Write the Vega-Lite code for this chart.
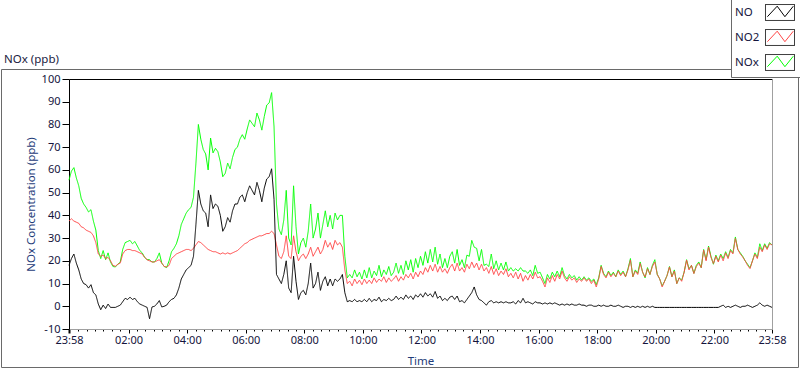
{
"$schema": "https://vega.github.io/schema/vega-lite/v6.json",
"width": 797, "height": 298,
"autosize": {"type": "none"},
"padding": {"left": 1, "top": 69, "right": 2, "bottom": 2},
"background": "white",
"config": {"view": {"stroke": "#6a6a6a", "strokeWidth": 1}, "font": "Noto Sans"},
"title": {"text": "NOx (ppb)", "anchor": "start", "frame": "group", "dx": 3, "dy": 81, "offset": 0, "fontSize": 11.5, "fontWeight": "normal", "color": "#1a1a40", "font": "Noto Sans", "baseline": "alphabetic"},
"data": {"format": {"parse": {"t": "utc:'%d %H:%M'"}}, "values": [
{"t":"01 23:58","NO":18,"NO2":37.5,"NOx":55.5},
{"t":"02 00:03","NO":21,"NO2":38.5,"NOx":59.5},
{"t":"02 00:08","NO":23,"NO2":37.5,"NOx":61},
{"t":"02 00:13","NO":19,"NO2":37,"NOx":56.5},
{"t":"02 00:18","NO":16,"NO2":36.5,"NOx":53},
{"t":"02 00:23","NO":12,"NO2":35,"NOx":47.5},
{"t":"02 00:28","NO":10,"NO2":34.5,"NOx":45},
{"t":"02 00:33","NO":9.5,"NO2":33.5,"NOx":43.5},
{"t":"02 00:38","NO":8,"NO2":33,"NOx":41.5},
{"t":"02 00:43","NO":9.5,"NO2":32.5,"NOx":42.5},
{"t":"02 00:48","NO":6,"NO2":31,"NOx":37.5},
{"t":"02 00:53","NO":5,"NO2":28,"NOx":33.5},
{"t":"02 00:58","NO":1,"NO2":23,"NOx":24.5},
{"t":"02 01:03","NO":-1.5,"NO2":22,"NOx":21},
{"t":"02 01:08","NO":0.5,"NO2":22.5,"NOx":24.5},
{"t":"02 01:13","NO":-1,"NO2":21,"NOx":20.5},
{"t":"02 01:18","NO":1,"NO2":21.5,"NOx":23.5},
{"t":"02 01:23","NO":-0.5,"NO2":20,"NOx":19.5},
{"t":"02 01:28","NO":-0.5,"NO2":18,"NOx":17.5},
{"t":"02 01:33","NO":-0.5,"NO2":17.6,"NOx":17.3},
{"t":"02 01:38","NO":0,"NO2":18.5,"NOx":18.5},
{"t":"02 01:43","NO":0.5,"NO2":19,"NOx":19.5},
{"t":"02 01:48","NO":2,"NO2":23,"NOx":25},
{"t":"02 01:53","NO":3.5,"NO2":24.5,"NOx":28},
{"t":"02 01:58","NO":3,"NO2":25,"NOx":28.5},
{"t":"02 02:03","NO":4,"NO2":25,"NOx":29},
{"t":"02 02:08","NO":3,"NO2":24.5,"NOx":27.5},
{"t":"02 02:13","NO":3.5,"NO2":24.5,"NOx":28.5},
{"t":"02 02:18","NO":2,"NO2":24,"NOx":26.5},
{"t":"02 02:23","NO":1,"NO2":23.5,"NOx":24.5},
{"t":"02 02:28","NO":0.5,"NO2":23,"NOx":23.5},
{"t":"02 02:33","NO":0,"NO2":21.5,"NOx":21.5},
{"t":"02 02:38","NO":-0.5,"NO2":20.5,"NOx":20.5},
{"t":"02 02:43","NO":-5.5,"NO2":20,"NOx":20.5},
{"t":"02 02:48","NO":-0.3,"NO2":19.5,"NOx":19.5},
{"t":"02 02:53","NO":0,"NO2":19.5,"NOx":19.5},
{"t":"02 02:58","NO":1,"NO2":20,"NOx":21},
{"t":"02 03:03","NO":2.5,"NO2":20.5,"NOx":23.5},
{"t":"02 03:08","NO":-0.3,"NO2":19,"NOx":19},
{"t":"02 03:13","NO":0,"NO2":17.5,"NOx":17.5},
{"t":"02 03:18","NO":0.5,"NO2":17.3,"NOx":17},
{"t":"02 03:23","NO":2,"NO2":18,"NOx":20},
{"t":"02 03:28","NO":3,"NO2":21,"NOx":24},
{"t":"02 03:33","NO":3.5,"NO2":22,"NOx":25.5},
{"t":"02 03:38","NO":5,"NO2":23,"NOx":27.5},
{"t":"02 03:43","NO":8,"NO2":23.5,"NOx":31},
{"t":"02 03:48","NO":12,"NO2":24,"NOx":36},
{"t":"02 03:53","NO":14,"NO2":24.5,"NOx":38.5},
{"t":"02 03:58","NO":16,"NO2":25,"NOx":41},
{"t":"02 04:03","NO":17,"NO2":25,"NOx":42.5},
{"t":"02 04:08","NO":18,"NO2":24.5,"NOx":43.5},
{"t":"02 04:13","NO":22,"NO2":25.5,"NOx":48},
{"t":"02 04:18","NO":36,"NO2":27,"NOx":63},
{"t":"02 04:23","NO":51,"NO2":28.5,"NOx":80},
{"t":"02 04:28","NO":45,"NO2":28,"NOx":73.5},
{"t":"02 04:33","NO":42,"NO2":27,"NOx":69},
{"t":"02 04:38","NO":41,"NO2":26,"NOx":67},
{"t":"02 04:43","NO":35,"NO2":25,"NOx":60},
{"t":"02 04:48","NO":49,"NO2":24.5,"NOx":74},
{"t":"02 04:53","NO":43,"NO2":24,"NOx":67.5},
{"t":"02 04:58","NO":45,"NO2":24,"NOx":69.5},
{"t":"02 05:03","NO":44,"NO2":23.5,"NOx":68},
{"t":"02 05:08","NO":40,"NO2":23,"NOx":63.5},
{"t":"02 05:13","NO":33,"NO2":23.5,"NOx":57},
{"t":"02 05:18","NO":35,"NO2":23,"NOx":58.5},
{"t":"02 05:23","NO":39,"NO2":23.5,"NOx":63},
{"t":"02 05:28","NO":37,"NO2":23,"NOx":60.5},
{"t":"02 05:33","NO":42,"NO2":23.5,"NOx":65.5},
{"t":"02 05:38","NO":45,"NO2":24,"NOx":69},
{"t":"02 05:43","NO":45,"NO2":24.5,"NOx":70},
{"t":"02 05:48","NO":48,"NO2":25.5,"NOx":73.5},
{"t":"02 05:53","NO":49,"NO2":26.5,"NOx":75.5},
{"t":"02 05:58","NO":46,"NO2":27.5,"NOx":73.5},
{"t":"02 06:03","NO":50,"NO2":28,"NOx":78},
{"t":"02 06:08","NO":53,"NO2":29,"NOx":82},
{"t":"02 06:13","NO":51,"NO2":29.5,"NOx":80.5},
{"t":"02 06:18","NO":49,"NO2":30,"NOx":79},
{"t":"02 06:23","NO":54.5,"NO2":30.5,"NOx":85},
{"t":"02 06:28","NO":51,"NO2":31,"NOx":82},
{"t":"02 06:33","NO":46,"NO2":31,"NOx":77.5},
{"t":"02 06:38","NO":52,"NO2":31.5,"NOx":83.5},
{"t":"02 06:43","NO":56,"NO2":32,"NOx":88.5},
{"t":"02 06:48","NO":57,"NO2":32,"NOx":89.5},
{"t":"02 06:53","NO":60.5,"NO2":33,"NOx":94},
{"t":"02 06:58","NO":47,"NO2":32,"NOx":79},
{"t":"02 07:03","NO":14,"NO2":27,"NOx":45},
{"t":"02 07:08","NO":12,"NO2":22,"NOx":34},
{"t":"02 07:13","NO":10,"NO2":21,"NOx":31.5},
{"t":"02 07:18","NO":14,"NO2":24,"NOx":38},
{"t":"02 07:23","NO":20,"NO2":31,"NOx":51},
{"t":"02 07:28","NO":8,"NO2":22,"NOx":30},
{"t":"02 07:33","NO":6,"NO2":21,"NOx":27},
{"t":"02 07:38","NO":22,"NO2":31,"NOx":53},
{"t":"02 07:43","NO":11,"NO2":24,"NOx":35},
{"t":"02 07:48","NO":3,"NO2":20,"NOx":23},
{"t":"02 07:53","NO":6,"NO2":22,"NOx":28},
{"t":"02 07:58","NO":7,"NO2":23,"NOx":30},
{"t":"02 08:03","NO":5,"NO2":21,"NOx":26},
{"t":"02 08:08","NO":10,"NO2":23,"NOx":33},
{"t":"02 08:13","NO":19,"NO2":26,"NOx":45},
{"t":"02 08:18","NO":8,"NO2":22,"NOx":30},
{"t":"02 08:23","NO":10,"NO2":24,"NOx":34},
{"t":"02 08:28","NO":15,"NO2":26,"NOx":41},
{"t":"02 08:33","NO":7,"NO2":23,"NOx":30},
{"t":"02 08:38","NO":11,"NO2":25,"NOx":36},
{"t":"02 08:43","NO":13,"NO2":29,"NOx":42},
{"t":"02 08:48","NO":9,"NO2":26,"NOx":35},
{"t":"02 08:53","NO":12,"NO2":28,"NOx":40},
{"t":"02 08:58","NO":9,"NO2":25,"NOx":34},
{"t":"02 09:03","NO":12,"NO2":29,"NOx":41},
{"t":"02 09:08","NO":11,"NO2":27,"NOx":38},
{"t":"02 09:13","NO":12,"NO2":28,"NOx":40},
{"t":"02 09:18","NO":14,"NO2":26,"NOx":40},
{"t":"02 09:23","NO":6,"NO2":16,"NOx":22},
{"t":"02 09:28","NO":2,"NO2":10,"NOx":12.5},
{"t":"02 09:33","NO":2.5,"NO2":11,"NOx":14},
{"t":"02 09:38","NO":2,"NO2":9,"NOx":12.5},
{"t":"02 09:43","NO":3,"NO2":12,"NOx":16},
{"t":"02 09:48","NO":2,"NO2":10,"NOx":13},
{"t":"02 09:53","NO":2.5,"NO2":11.5,"NOx":15},
{"t":"02 09:58","NO":2,"NO2":9.5,"NOx":12},
{"t":"02 10:03","NO":3,"NO2":12,"NOx":16},
{"t":"02 10:08","NO":2,"NO2":10,"NOx":12.5},
{"t":"02 10:13","NO":3.5,"NO2":11.5,"NOx":17},
{"t":"02 10:18","NO":2,"NO2":10,"NOx":12.5},
{"t":"02 10:23","NO":3,"NO2":12.5,"NOx":15.5},
{"t":"02 10:28","NO":2.5,"NO2":10.5,"NOx":13.5},
{"t":"02 10:33","NO":4,"NO2":12,"NOx":18},
{"t":"02 10:38","NO":2,"NO2":11,"NOx":13},
{"t":"02 10:43","NO":3,"NO2":13,"NOx":16},
{"t":"02 10:48","NO":2.5,"NO2":10.5,"NOx":14},
{"t":"02 10:53","NO":3.5,"NO2":12.5,"NOx":17.5},
{"t":"02 10:58","NO":2.5,"NO2":11,"NOx":13.5},
{"t":"02 11:03","NO":3,"NO2":12,"NOx":15},
{"t":"02 11:08","NO":4.5,"NO2":13.5,"NOx":19},
{"t":"02 11:13","NO":3,"NO2":11,"NOx":14.5},
{"t":"02 11:18","NO":4,"NO2":13,"NOx":18},
{"t":"02 11:23","NO":3,"NO2":11.5,"NOx":14},
{"t":"02 11:28","NO":5,"NO2":14,"NOx":20},
{"t":"02 11:33","NO":3.5,"NO2":12.5,"NOx":16},
{"t":"02 11:38","NO":4.5,"NO2":14.5,"NOx":20.5},
{"t":"02 11:43","NO":3,"NO2":12,"NOx":15},
{"t":"02 11:48","NO":5,"NO2":15,"NOx":21},
{"t":"02 11:53","NO":4,"NO2":13,"NOx":17},
{"t":"02 11:58","NO":5.5,"NO2":15.5,"NOx":22},
{"t":"02 12:03","NO":4,"NO2":14,"NOx":18},
{"t":"02 12:08","NO":6,"NO2":17,"NOx":24},
{"t":"02 12:13","NO":4.5,"NO2":15,"NOx":19},
{"t":"02 12:18","NO":5.5,"NO2":18,"NOx":25},
{"t":"02 12:23","NO":4,"NO2":15.5,"NOx":19.5},
{"t":"02 12:28","NO":6.5,"NO2":18.5,"NOx":26},
{"t":"02 12:33","NO":3.5,"NO2":15,"NOx":18.5},
{"t":"02 12:38","NO":4.5,"NO2":17.5,"NOx":23},
{"t":"02 12:43","NO":2.5,"NO2":15,"NOx":17},
{"t":"02 12:48","NO":3.5,"NO2":16.5,"NOx":21},
{"t":"02 12:53","NO":2.5,"NO2":14.5,"NOx":17},
{"t":"02 12:58","NO":4,"NO2":17,"NOx":22},
{"t":"02 13:03","NO":4.5,"NO2":18.5,"NOx":24},
{"t":"02 13:08","NO":3,"NO2":15.5,"NOx":19},
{"t":"02 13:13","NO":4.5,"NO2":19,"NOx":25},
{"t":"02 13:18","NO":2,"NO2":15.5,"NOx":18},
{"t":"02 13:23","NO":2.5,"NO2":17,"NOx":20.5},
{"t":"02 13:28","NO":1.5,"NO2":15,"NOx":17},
{"t":"02 13:33","NO":3,"NO2":18.5,"NOx":22.5},
{"t":"02 13:38","NO":4.5,"NO2":16.5,"NOx":22},
{"t":"02 13:43","NO":6,"NO2":19.5,"NOx":29},
{"t":"02 13:48","NO":8.5,"NO2":17,"NOx":26},
{"t":"02 13:53","NO":5,"NO2":19,"NOx":25.5},
{"t":"02 13:58","NO":3,"NO2":16,"NOx":20},
{"t":"02 14:03","NO":2.5,"NO2":18.5,"NOx":25},
{"t":"02 14:08","NO":1.5,"NO2":15.5,"NOx":18},
{"t":"02 14:13","NO":0.5,"NO2":17,"NOx":18.5},
{"t":"02 14:18","NO":2,"NO2":14.5,"NOx":17.5},
{"t":"02 14:23","NO":2.5,"NO2":17.5,"NOx":23},
{"t":"02 14:28","NO":1.5,"NO2":14,"NOx":16.5},
{"t":"02 14:33","NO":2,"NO2":16.5,"NOx":20},
{"t":"02 14:38","NO":1.5,"NO2":13.5,"NOx":16},
{"t":"02 14:43","NO":2,"NO2":15.5,"NOx":19},
{"t":"02 14:48","NO":1.5,"NO2":14,"NOx":16},
{"t":"02 14:53","NO":2,"NO2":16.5,"NOx":19.5},
{"t":"02 14:58","NO":1.5,"NO2":13,"NOx":15.5},
{"t":"02 15:03","NO":1.5,"NO2":14.5,"NOx":17},
{"t":"02 15:08","NO":2,"NO2":12.5,"NOx":15.5},
{"t":"02 15:13","NO":1,"NO2":15,"NOx":16.5},
{"t":"02 15:18","NO":2.5,"NO2":12,"NOx":15.5},
{"t":"02 15:23","NO":1.5,"NO2":14.5,"NOx":17},
{"t":"02 15:28","NO":3.5,"NO2":11,"NOx":15.5},
{"t":"02 15:33","NO":1.5,"NO2":13.5,"NOx":15.5},
{"t":"02 15:38","NO":2,"NO2":11.5,"NOx":14.5},
{"t":"02 15:43","NO":1.5,"NO2":14,"NOx":16},
{"t":"02 15:48","NO":1,"NO2":12,"NOx":13.5},
{"t":"02 15:53","NO":2,"NO2":15,"NOx":18},
{"t":"02 15:58","NO":1.5,"NO2":12.5,"NOx":14.5},
{"t":"02 16:03","NO":1.5,"NO2":13,"NOx":15},
{"t":"02 16:08","NO":1,"NO2":11,"NOx":12.5},
{"t":"02 16:13","NO":1.5,"NO2":8.5,"NOx":10},
{"t":"02 16:18","NO":1,"NO2":12.5,"NOx":14},
{"t":"02 16:23","NO":1.5,"NO2":10.5,"NOx":12},
{"t":"02 16:28","NO":1,"NO2":13.5,"NOx":15},
{"t":"02 16:33","NO":1.5,"NO2":11,"NOx":13},
{"t":"02 16:38","NO":1,"NO2":14,"NOx":15.5},
{"t":"02 16:43","NO":0.5,"NO2":12,"NOx":13},
{"t":"02 16:48","NO":1,"NO2":15.5,"NOx":17},
{"t":"02 16:53","NO":0.5,"NO2":12.5,"NOx":13.5},
{"t":"02 16:58","NO":1,"NO2":11,"NOx":12},
{"t":"02 17:03","NO":0.5,"NO2":13,"NOx":14},
{"t":"02 17:08","NO":1,"NO2":11.5,"NOx":12.5},
{"t":"02 17:13","NO":0.5,"NO2":12.5,"NOx":13.5},
{"t":"02 17:18","NO":0.5,"NO2":10.5,"NOx":11.5},
{"t":"02 17:23","NO":1,"NO2":12,"NOx":13},
{"t":"02 17:28","NO":0.5,"NO2":11,"NOx":11.5},
{"t":"02 17:33","NO":0.5,"NO2":12.5,"NOx":13},
{"t":"02 17:38","NO":0,"NO2":11,"NOx":11.5},
{"t":"02 17:43","NO":0.5,"NO2":12,"NOx":12.5},
{"t":"02 17:48","NO":0.5,"NO2":10,"NOx":11},
{"t":"02 17:53","NO":0,"NO2":11.5,"NOx":12},
{"t":"02 17:58","NO":0,"NO2":8.5,"NOx":9.5},
{"t":"02 18:03","NO":0.5,"NO2":12,"NOx":12.5},
{"t":"02 18:08","NO":0,"NO2":17.5,"NOx":18},
{"t":"02 18:13","NO":0.5,"NO2":14,"NOx":14.5},
{"t":"02 18:18","NO":0,"NO2":12.5,"NOx":13},
{"t":"02 18:23","NO":0,"NO2":15,"NOx":15.5},
{"t":"02 18:28","NO":0.5,"NO2":13,"NOx":13.5},
{"t":"02 18:33","NO":0,"NO2":14.5,"NOx":15},
{"t":"02 18:38","NO":0,"NO2":13,"NOx":13},
{"t":"02 18:43","NO":0.5,"NO2":15.5,"NOx":16},
{"t":"02 18:48","NO":0,"NO2":13.5,"NOx":14},
{"t":"02 18:53","NO":-0.5,"NO2":15,"NOx":15.5},
{"t":"02 18:58","NO":0,"NO2":13,"NOx":13},
{"t":"02 19:03","NO":0,"NO2":16,"NOx":16.5},
{"t":"02 19:08","NO":-0.5,"NO2":20.3,"NOx":21},
{"t":"02 19:13","NO":0,"NO2":13,"NOx":13},
{"t":"02 19:18","NO":-0.5,"NO2":15.5,"NOx":16},
{"t":"02 19:23","NO":0,"NO2":14,"NOx":14.5},
{"t":"02 19:28","NO":-0.5,"NO2":18.8,"NOx":19.5},
{"t":"02 19:33","NO":0,"NO2":15,"NOx":15},
{"t":"02 19:38","NO":-0.5,"NO2":12.9,"NOx":12.5},
{"t":"02 19:43","NO":0,"NO2":16.5,"NOx":17},
{"t":"02 19:48","NO":-0.5,"NO2":14,"NOx":14},
{"t":"02 19:53","NO":0,"NO2":17.5,"NOx":18},
{"t":"02 19:58","NO":-0.5,"NO2":19.5,"NOx":20.5},
{"t":"02 20:03","NO":-0.5,"NO2":14,"NOx":14},
{"t":"02 20:08","NO":-0.5,"NO2":12,"NOx":12},
{"t":"02 20:13","NO":-0.5,"NO2":8.5,"NOx":9},
{"t":"02 20:18","NO":-0.5,"NO2":11,"NOx":11},
{"t":"02 20:23","NO":-0.5,"NO2":13.5,"NOx":13.5},
{"t":"02 20:28","NO":-0.5,"NO2":17.3,"NOx":17.5},
{"t":"02 20:33","NO":-0.5,"NO2":13,"NOx":13},
{"t":"02 20:38","NO":-0.5,"NO2":15.5,"NOx":16},
{"t":"02 20:43","NO":-0.5,"NO2":10,"NOx":10},
{"t":"02 20:48","NO":-0.5,"NO2":12.5,"NOx":12.5},
{"t":"02 20:53","NO":-0.5,"NO2":11,"NOx":11.5},
{"t":"02 20:58","NO":-0.5,"NO2":15,"NOx":15},
{"t":"02 21:03","NO":-0.5,"NO2":20.3,"NOx":20.5},
{"t":"02 21:08","NO":-0.5,"NO2":16,"NOx":16.5},
{"t":"02 21:13","NO":-0.5,"NO2":18,"NOx":18},
{"t":"02 21:18","NO":-0.5,"NO2":14.4,"NOx":14.5},
{"t":"02 21:23","NO":-0.5,"NO2":17.5,"NOx":18},
{"t":"02 21:28","NO":-0.5,"NO2":19,"NOx":19.5},
{"t":"02 21:33","NO":-0.5,"NO2":17,"NOx":17},
{"t":"02 21:38","NO":-0.5,"NO2":24.7,"NOx":25},
{"t":"02 21:43","NO":-0.5,"NO2":20,"NOx":20.5},
{"t":"02 21:48","NO":-0.5,"NO2":26,"NOx":26.5},
{"t":"02 21:53","NO":-0.5,"NO2":21.5,"NOx":22},
{"t":"02 21:58","NO":-0.5,"NO2":18.8,"NOx":18.5},
{"t":"02 22:03","NO":-0.5,"NO2":22,"NOx":22.5},
{"t":"02 22:08","NO":-0.5,"NO2":19.5,"NOx":20},
{"t":"02 22:13","NO":0,"NO2":22.5,"NOx":23},
{"t":"02 22:18","NO":0.5,"NO2":20,"NOx":21},
{"t":"02 22:23","NO":-0.5,"NO2":23.5,"NOx":24},
{"t":"02 22:28","NO":0,"NO2":21,"NOx":21.5},
{"t":"02 22:33","NO":-0.5,"NO2":24.5,"NOx":25},
{"t":"02 22:38","NO":0,"NO2":23,"NOx":23.5},
{"t":"02 22:43","NO":0.5,"NO2":29.8,"NOx":30.5},
{"t":"02 22:48","NO":0,"NO2":25,"NOx":25},
{"t":"02 22:53","NO":-0.5,"NO2":23,"NOx":23.5},
{"t":"02 22:58","NO":0,"NO2":21.7,"NOx":22},
{"t":"02 23:03","NO":0,"NO2":20,"NOx":20},
{"t":"02 23:08","NO":0.5,"NO2":18,"NOx":18.5},
{"t":"02 23:13","NO":0,"NO2":16.6,"NOx":17},
{"t":"02 23:18","NO":-0.5,"NO2":20,"NOx":20},
{"t":"02 23:23","NO":0,"NO2":23,"NOx":23.5},
{"t":"02 23:28","NO":0.5,"NO2":21,"NOx":21.5},
{"t":"02 23:33","NO":1.5,"NO2":26,"NOx":27.5},
{"t":"02 23:38","NO":0.5,"NO2":24,"NOx":24.5},
{"t":"02 23:43","NO":0,"NO2":27,"NOx":27.5},
{"t":"02 23:48","NO":0.5,"NO2":25,"NOx":25.5},
{"t":"02 23:53","NO":0,"NO2":27.5,"NOx":28},
{"t":"02 23:58","NO":-0.5,"NO2":27,"NOx":27}
]},
"transform": [{"fold": ["NOx", "NO2", "NO"], "as": ["series", "value"]}],
"encoding": {
  "color": {"field": "series", "type": "nominal",
    "scale": {"domain": ["NO", "NO2", "NOx"], "range": ["#000000", "#ff4545", "#00ff00"]},
    "legend": {
      "title": null, "orient": "none", "legendX": 730, "legendY": -75,
      "symbolType": "M -1.036 -0.57 M 1.036 0.57 M -0.9 0.3 L -0.2 -0.45 L 0.35 0.3 L 0.95 -0.45",
      "symbolSize": 784, "symbolStrokeWidth": 1, "symbolOffset": 30.5, "rowPadding": 0,
      "labelAlign": "left", "labelOffset": -59.5, "labelFontSize": 11.5, "labelColor": "#14143c", "labelFont": "Noto Sans",
      "padding": 4, "strokeColor": "#6a6a6a", "fillColor": "white"
    }
  },
  "strokeDash": {"field": "series", "type": "nominal",
    "scale": {"domain": ["NOx", "NO2", "NO"], "range": [[1, 0], [1, 0], [1, 0]]},
    "legend": {
      "title": null, "orient": "none", "legendX": 730, "legendY": -75,
      "symbolType": "M -1.036 -0.57 L 1.036 -0.57 L 1.036 0.57 L -1.036 0.57 Z",
      "symbolSize": 784, "symbolStrokeWidth": 1, "symbolStrokeColor": "black", "symbolFillColor": "transparent", "symbolOffset": 30.5, "rowPadding": 0,
      "labelAlign": "left", "labelOffset": -59.5, "labelFontSize": 11.5, "labelExpr": "''", "labelFont": "Noto Sans",
      "padding": 4
    }
  }
},
"layer": [
  {
    "transform": [{"filter": "datum.series !== 'NO'"}],
    "mark": {"type": "line", "strokeWidth": 1},
    "encoding": {
      "x": {"field": "t", "type": "temporal",
        "scale": {"type": "utc", "domain": [-2208902520000, -2208816120000], "nice": false, "range": [68, 771]},
        "axis": {
          "orient": "bottom", "offset": -38,
          "title": "Time", "titleFontSize": 11.5, "titleFontWeight": "normal", "titleColor": "#1f3d7a", "titlePadding": 10,
          "values": [-2208902520000, -2208895200000, -2208888000000, -2208880800000, -2208873600000, -2208866400000, -2208859200000, -2208852000000, -2208844800000, -2208837600000, -2208830400000, -2208823200000, -2208816120000,
            -2208901371429, -2208900342857, -2208899314286, -2208898285714, -2208897257143, -2208896228571,
            -2208894171429, -2208893142857, -2208892114286, -2208891085714, -2208890057143, -2208889028571,
            -2208886971429, -2208885942857, -2208884914286, -2208883885714, -2208882857143, -2208881828571,
            -2208879771429, -2208878742857, -2208877714286, -2208876685714, -2208875657143, -2208874628571,
            -2208872571429, -2208871542857, -2208870514286, -2208869485714, -2208868457143, -2208867428571,
            -2208865371429, -2208864342857, -2208863314286, -2208862285714, -2208861257143, -2208860228571,
            -2208858171429, -2208857142857, -2208856114286, -2208855085714, -2208854057143, -2208853028571,
            -2208850971429, -2208849942857, -2208848914286, -2208847885714, -2208846857143, -2208845828571,
            -2208843771429, -2208842742857, -2208841714286, -2208840685714, -2208839657143, -2208838628571,
            -2208836571429, -2208835542857, -2208834514286, -2208833485714, -2208832457143, -2208831428571,
            -2208829371429, -2208828342857, -2208827314286, -2208826285714, -2208825257143, -2208824228571,
            -2208822171429, -2208821142857, -2208820114286, -2208819085714, -2208818057143, -2208817028571],
          "labelExpr": "(toNumber(datum.value) === -2208902520000 || toNumber(datum.value) === -2208816120000 || (toNumber(datum.value) + 2208902400000) % 7200000 === 0) ? utcFormat(datum.value, '%H:%M') : ''",
          "labelFontSize": 11, "labelColor": "#14143c", "labelPadding": 1, "labelOverlap": false, "labelFlush": false, "labelBound": false,
          "tickColor": "black",
          "tickSize": {"condition": {"test": "toNumber(datum.value) === -2208902520000 || toNumber(datum.value) === -2208816120000 || (toNumber(datum.value) + 2208902400000) % 7200000 === 0", "value": 4}, "value": 2},
          "tickWidth": {"condition": {"test": "toNumber(datum.value) === -2208902520000", "value": 2}, "value": 1},
          "domainColor": "#a0a0a0", "grid": false
        }
      },
      "y": {"field": "value", "type": "quantitative",
        "scale": {"domain": [-10, 100], "nice": false, "zero": false, "range": [260, 10]},
        "axis": {
          "orient": "left", "offset": -68,
          "title": "NOx Concentration (ppb)", "titleFontSize": 11.5, "titleFontWeight": "normal", "titleColor": "#1f3d7a", "titlePadding": 5,
          "values": [-10, 0, 10, 20, 30, 40, 50, 60, 70, 80, 90, 100],
          "labelExpr": "'' + datum.value",
          "labelFontSize": 11, "labelColor": "#14143c", "labelPadding": 2,
          "tickSize": 7, "tickColor": "black", "domainColor": "black", "grid": false
        }
      }
    }
  },
  {
    "transform": [{"filter": "datum.series === 'NO'"}],
    "mark": {"type": "line", "strokeWidth": 1},
    "encoding": {
      "x": {"field": "t", "type": "temporal",
        "scale": {"type": "utc", "domain": [-2208902520000, -2208816120000], "nice": false, "range": [68, 771]},
        "axis": {"orient": "top", "offset": -10, "title": null, "labels": false, "ticks": false, "grid": false, "domainColor": "black"}
      },
      "y": {"field": "value", "type": "quantitative",
        "scale": {"domain": [-10, 100], "nice": false, "zero": false, "range": [260, 10]},
        "axis": {"orient": "right", "offset": -26, "title": null, "labels": false, "ticks": false, "grid": false, "domainColor": "#a0a0a0"}
      }
    }
  }
],
"resolve": {"axis": {"x": "independent", "y": "independent"}}
}
